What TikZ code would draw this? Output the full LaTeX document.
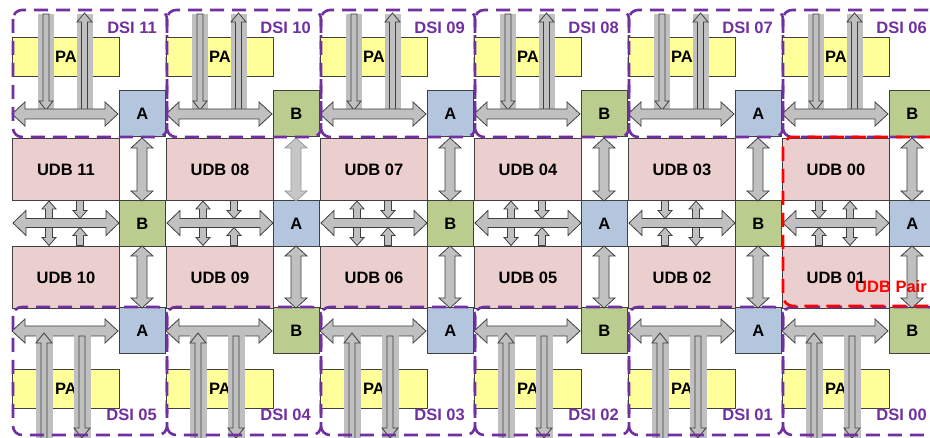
\documentclass[tikz,border=0pt]{standalone}
\usepackage{fontspec}
\setmainfont{Liberation Sans}
\definecolor{udbpink}{HTML}{EBCFCF}
\definecolor{ablue}{HTML}{B3C6DE}
\definecolor{bgreen}{HTML}{BACD8E}
\definecolor{payellow}{HTML}{FFFF99}
\definecolor{dsipurple}{HTML}{7030A0}
\definecolor{arrgray}{HTML}{C0C0C0}
\definecolor{edgegray}{HTML}{404040}
\definecolor{pairred}{HTML}{FF0000}
\tikzset{
  lbl/.style={font=\bfseries\fontsize{16.5}{18}\selectfont},
  box/.style={draw=edgegray, line width=0.9pt, inner sep=0pt, anchor=north west, lbl},
  udbbox/.style={box, fill=udbpink, minimum width=107pt, minimum height=62pt},
  sqbox/.style={box, minimum width=46pt, minimum height=46pt},
  pabox/.style={box, fill=payellow, minimum width=107pt, minimum height=39pt},
  arrowst/.style={fill=arrgray, draw=edgegray, line width=0.8pt, line join=miter},
  lightarrow/.style={fill=arrgray!90!white, draw=gray!80!white, line width=0.8pt},
  graybar/.style={fill=arrgray, draw=none},
  dsibox/.style={draw=dsipurple, line width=2.6pt, dash pattern=on 14pt off 8pt, rounded corners=9pt},
  dsilbl/.style={lbl, text=dsipurple, anchor=east, inner sep=0pt},
  pairbox/.style={draw=pairred, line width=2.6pt, dash pattern=on 14pt off 8pt, rounded corners=10pt},
}
% horizontal double arrow: x1 x2 y shafthalf headhalf
\newcommand\HDbl[6][arrowst]{%
  \filldraw[#1] ({#2},{#4}) -- ({#2+13},{#4-#6}) -- ({#2+13},{#4-#5}) -- ({#3-13},{#4-#5}) -- ({#3-13},{#4-#6}) -- ({#3},{#4}) -- ({#3-13},{#4+#6}) -- ({#3-13},{#4+#5}) -- ({#2+13},{#4+#5}) -- ({#2+13},{#4+#6}) -- cycle;}
% vertical double arrow: x y1 y2 sh hh hl
\newcommand\VDbl[7][arrowst]{%
  \filldraw[#1] ({#2},{#3}) -- ({#2+#6},{#3+#7}) -- ({#2+#5},{#3+#7}) -- ({#2+#5},{#4-#7}) -- ({#2+#6},{#4-#7}) -- ({#2},{#4}) -- ({#2-#6},{#4-#7}) -- ({#2-#5},{#4-#7}) -- ({#2-#5},{#3+#7}) -- ({#2-#6},{#3+#7}) -- cycle;}
% up arrow: x ytip ytail sh hh hl
\newcommand\VUp[6]{%
  \filldraw[arrowst] ({#1},{#2}) -- ({#1+#5},{#2+#6}) -- ({#1+#4},{#2+#6}) -- ({#1+#4},{#3}) -- ({#1-#4},{#3}) -- ({#1-#4},{#2+#6}) -- ({#1-#5},{#2+#6}) -- cycle;}
% down arrow: x ytail ytip sh hh hl
\newcommand\VDown[6]{%
  \filldraw[arrowst] ({#1},{#3}) -- ({#1+#5},{#3-#6}) -- ({#1+#4},{#3-#6}) -- ({#1+#4},{#2}) -- ({#1-#4},{#2}) -- ({#1-#4},{#3-#6}) -- ({#1-#5},{#3-#6}) -- cycle;}
\begin{document}
\begin{tikzpicture}[x=1pt,y=-1pt]
\useasboundingbox (0,0) rectangle (930,438);
\clip (0,0) rectangle (930,438);
\fill[white] (0,0) rectangle (930,438);
\foreach \k/\dt/\ut/\ub/\db/\cs/\ls/\cm/\lm/\io in {
  0/11/11/10/05/ablue/A/bgreen/B/0,
  1/10/08/09/04/bgreen/B/ablue/A/0,
  2/09/07/06/03/ablue/A/bgreen/B/0,
  3/08/04/05/02/bgreen/B/ablue/A/0,
  4/07/03/02/01/ablue/A/bgreen/B/1,
  5/06/00/01/00/bgreen/B/ablue/A/1}{
  \pgfmathsetmacro\xo{12+154*\k}
  % boxes
  \node[pabox] (paT\k) at (\xo,37) {PA};
  \node[pabox] (paB\k) at (\xo,369) {PA};
  \node[udbbox] (udbT\k) at (\xo,138) {UDB \ut};
  \node[udbbox] (udbB\k) at (\xo,246) {UDB \ub};
  \node[sqbox, fill=\cs] (sqT\k) at (\xo+107,90) {\ls};
  \node[sqbox, fill=\cm] (sqM\k) at (\xo+107,200) {\lm};
  \node[sqbox, fill=\cs] (sqB\k) at (\xo+107,307) {\ls};
  % top DSI arrows
  \fill[graybar] (\xo+26,14) rectangle (\xo+42,111);
  \fill[graybar] (\xo+65,14) rectangle (\xo+81,111);
  \VDown{\xo+34}{14}{110}{3}{7}{9}
  \VUp{\xo+72.5}{13}{111}{3}{7.5}{9}
  \HDbl{\xo}{\xo+106}{114}{5}{12}
  % bottom DSI arrows
  \HDbl{\xo}{\xo+106}{331}{5}{12}
  \fill[graybar] (\xo+24,334) rectangle (\xo+41,440);
  \fill[graybar] (\xo+62,334) rectangle (\xo+79,440);
  \VUp{\xo+32}{333}{440}{3}{8}{10}
  \VDown{\xo+70}{336}{438}{3}{8}{10}
  % middle bus
  \HDbl{\xo+1}{\xo+107}{223}{4.5}{12.5}
  \ifnum\io=0
    \VUp{\xo+37}{201}{218.5}{3.5}{7}{8}
    \VDown{\xo+37}{227.5}{245.5}{3.5}{7}{8}
    \VDown{\xo+68}{200.5}{218.5}{3.5}{7}{8}
    \VUp{\xo+68}{227.5}{245.5}{3.5}{7}{8}
  \else
    \VDown{\xo+37}{200.5}{218.5}{3.5}{7}{8}
    \VUp{\xo+37}{227.5}{245.5}{3.5}{7}{8}
    \VUp{\xo+68}{201}{218.5}{3.5}{7}{8}
    \VDown{\xo+68}{227.5}{245.5}{3.5}{7}{8}
  \fi
  % vertical links between squares
  \ifnum\k=1
    \VDbl[lightarrow]{\xo+130}{138}{201}{5}{11}{10}
  \else
    \VDbl{\xo+130}{138}{201}{5}{11}{10}
  \fi
  \VDbl{\xo+130}{246}{308}{5}{11}{10}
  % DSI regions
  \draw[dsibox] (\xo+1,10) rectangle (\xo+155,137);
  \draw[dsibox] (\xo+1,307) rectangle (\xo+155,435);
  \node[dsilbl] (dsiT\k) at (\xo+145,28) {DSI \dt};
  \node[dsilbl] (dsiB\k) at (\xo+145,415) {DSI \db};
}
\draw[pairbox] (783,137) rectangle (975,306);
\node[lbl, text=pairred, inner sep=0pt] (pair) at (891,287) {UDB Pair};
\end{tikzpicture}
\end{document}
